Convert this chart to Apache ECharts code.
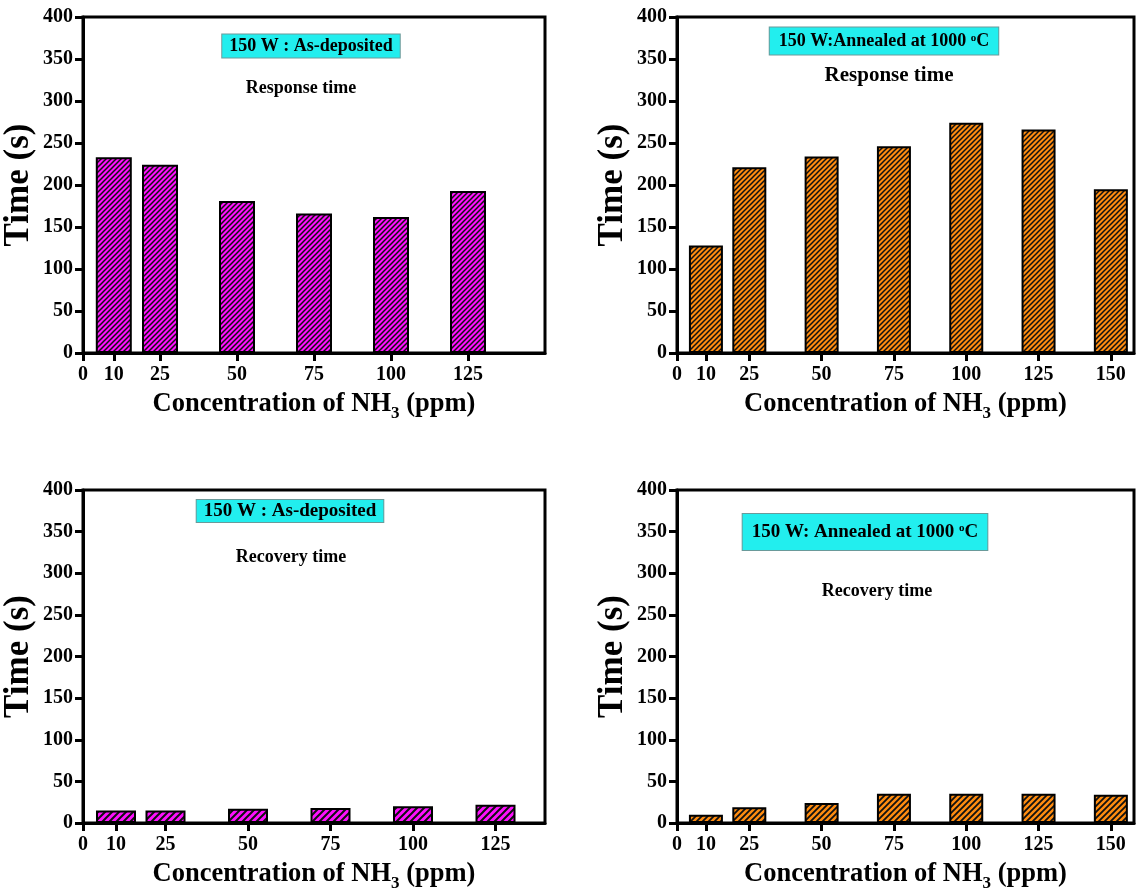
<!DOCTYPE html>
<html>
<head>
<meta charset="utf-8">
<script src="https://cdn.jsdelivr.net/npm/echarts@6/dist/echarts.min.js"></script>
<style>html,body{margin:0;padding:0;background:#fff}#c{width:1137px;height:893px}</style>
</head>
<body>
<div id="c"></div>
<script>
// ---- data ----
const concAsDep = [10, 25, 50, 75, 100, 125];
const concAnneal = [10, 25, 50, 75, 100, 125, 150];
const respAsDep = [233, 224, 181, 166, 162, 193];
const respAnneal = [128, 221, 234, 246, 274, 266, 195];
const recAsDep = [15, 15, 17, 18, 20, 22];
const recAnneal = [10, 19, 24, 35, 35, 35, 34];
const xTicksAsDep = [0, 10, 25, 50, 75, 100, 125];
const xTicksAnneal = [0, 10, 25, 50, 75, 100, 125, 150];
const yMin = 0, yMax = 400, yStep = 50;
const yName = 'Time (s)';
const boxAsDep = '150 W : As-deposited';
const boxAnnealTop = '150 W:Annealed at 1000 {sup|o}C';
const boxAnnealBot = '150 W: Annealed at 1000 {sup|o}C';
const labelResp = 'Response time';
const labelRec = 'Recovery time';

const FONT = '"Liberation Serif", "Times New Roman", serif';

function hatch(fill, period, lw) {
  const c = document.createElement('canvas');
  c.width = period; c.height = period;
  const g = c.getContext('2d');
  g.fillStyle = fill; g.fillRect(0, 0, period, period);
  g.strokeStyle = '#111'; g.lineWidth = lw;
  g.beginPath();
  g.moveTo(-period, 2 * period); g.lineTo(2 * period, -period);
  g.moveTo(-2 * period, 2 * period); g.lineTo(period, -period);
  g.moveTo(0, 2 * period); g.lineTo(2 * period, 0);
  g.stroke();
  return { image: c, repeat: 'repeat' };
}

const grids = [
  { left: 82, top: 17, width: 463, height: 336 },
  { left: 677, top: 17, width: 457, height: 336 },
  { left: 82, top: 490, width: 463, height: 337 },
  { left: 677, top: 490, width: 457, height: 337 }
].map(g => Object.assign(g, { show: true, borderColor: '#000', borderWidth: 3, backgroundColor: 'transparent' }));

const xMaxes = [150, 158, 140, 158];
const xTickSets = [xTicksAsDep, xTicksAnneal, xTicksAsDep, xTicksAnneal];

const xAxes = grids.map((g, i) => ({
  type: 'value', gridIndex: i, min: 0, max: xMaxes[i],
  splitLine: { show: false },
  axisLine: { show: true, onZero: false, lineStyle: { color: '#000', width: 3 } },
  axisTick: { show: true, customValues: xTickSets[i], length: 8, inside: false, lineStyle: { color: '#000', width: 3 } },
  axisLabel: { show: true, customValues: xTickSets[i], margin: 12, color: '#000', fontFamily: FONT, fontWeight: 'bold', fontSize: 20 },
  name: 'Concentration of NH{sub|3} (ppm)',
  nameLocation: 'middle', nameGap: 33,
  nameTextStyle: {
    color: '#000', fontFamily: FONT, fontWeight: 'bold', fontSize: 26.5, lineHeight: 36,
    rich: { sub: { fontFamily: FONT, fontWeight: 'bold', fontSize: 17, verticalAlign: 'bottom', lineHeight: 10, color: '#000' } }
  }
}));

const yAxes = grids.map((g, i) => ({
  type: 'value', gridIndex: i, min: yMin, max: yMax, interval: yStep,
  splitLine: { show: false },
  axisLine: { show: true, lineStyle: { color: '#000', width: 3 } },
  axisTick: { show: true, length: 8, lineStyle: { color: '#000', width: 3 } },
  axisLabel: { margin: 10, color: '#000', fontFamily: FONT, fontWeight: 'bold', fontSize: 20 },
  name: yName, nameLocation: 'middle', nameGap: 47, nameRotate: 90,
  nameTextStyle: { color: '#000', fontFamily: FONT, fontWeight: 'bold', fontSize: 35 }
}));

const magentaTop = hatch('#ff10ff', 5, 1.5);
const orangeTop = hatch('#ff8c10', 5, 1.5);
const magentaBot = hatch('#ff10ff', 7, 2);
const orangeBot = hatch('#ff8c10', 6, 1.8);

function barSeries(i, xs, ys, color, width) {
  return {
    type: 'bar', xAxisIndex: i, yAxisIndex: i,
    data: xs.map((x, k) => [x, ys[k]]),
    barWidth: width,
    itemStyle: { color: color, borderColor: '#000', borderWidth: 2 },
    silent: true, animation: false
  };
}

function textEl(x, y, text, size, boxed, padding) {
  const st = {
    text: text, x: 0, y: 0, align: 'center', verticalAlign: 'middle',
    fill: '#000', fontFamily: FONT, fontWeight: 'bold', fontSize: size,
    rich: { sup: { fontFamily: FONT, fontWeight: 'bold', fontSize: Math.round(size * 0.6), verticalAlign: 'top', lineHeight: size * 0.6, fill: '#000' } }
  };
  if (boxed) {
    st.backgroundColor = '#22eeee';
    st.borderColor = '#6a9a9a';
    st.borderWidth = 1;
    st.padding = padding;
  }
  return { type: 'text', x: x, y: y, style: st, z: 100 };
}

const graphics = [
  textEl(311, 46, boxAsDep, 18, true, [3, 7, 2, 7]),
  textEl(301, 88, labelResp, 18, false),
  textEl(884, 41, boxAnnealTop, 18, true, [5, 9, 4, 9]),
  textEl(889, 76, labelResp, 21, false),
  textEl(290, 511, boxAsDep, 19, true, [2, 7, 1, 7]),
  textEl(291, 557, labelRec, 18, false),
  textEl(865, 532, boxAnnealBot, 19, true, [9, 9, 8, 9]),
  textEl(877, 591, labelRec, 18, false)
];

const chart = echarts.init(document.getElementById('c'), null, { renderer: 'canvas' });
chart.setOption({
  backgroundColor: '#fff',
  animation: false,
  grid: grids,
  xAxis: xAxes,
  yAxis: yAxes,
  series: [
    barSeries(0, concAsDep, respAsDep, magentaTop, 36),
    barSeries(1, concAnneal, respAnneal, orangeTop, 34),
    barSeries(2, concAsDep, recAsDep, magentaBot, 40),
    barSeries(3, concAnneal, recAnneal, orangeBot, 34)
  ],
  graphic: graphics
});
</script>
</body>
</html>
